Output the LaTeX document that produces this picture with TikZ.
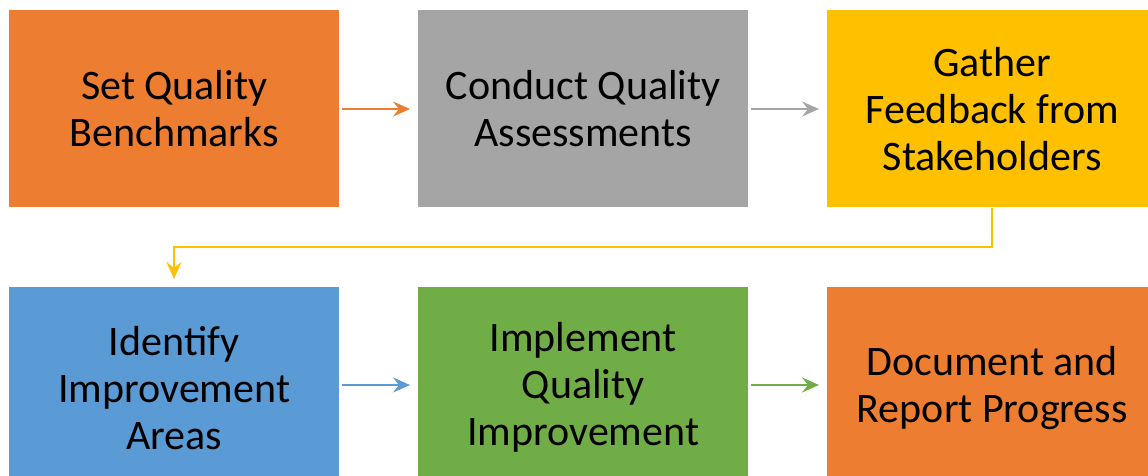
\documentclass[tikz,border=0pt]{standalone}
\usepackage{fontspec}
\setmainfont{Carlito}
\usetikzlibrary{arrows.meta}
\definecolor{corange}{HTML}{ED7D31}
\definecolor{cgray}{HTML}{A5A5A5}
\definecolor{cgold}{HTML}{FFC000}
\definecolor{cblue}{HTML}{5B9BD5}
\definecolor{cgreen}{HTML}{70AD47}
\begin{document}
\begin{tikzpicture}[x=1pt,y=-1pt,
  box/.style={fill=#1, draw=none, inner sep=0pt, minimum width=330pt, anchor=north west,
    font=\fontsize{42}{47}\selectfont, align=center, text=black},
  conn/.style={draw=#1, line width=2pt, -{Stealth[length=17pt,width=15pt,inset=6pt]}}]
\useasboundingbox (0,0) rectangle (1148,476);
\node[box=corange, minimum height=197pt] (b1) at (9,10) {Set Quality\\Benchmarks};
\node[box=cgray, minimum height=197pt] (b2) at (418,10) {Conduct Quality\\Assessments};
\node[box=cgold, minimum height=197pt] (b3) at (827,10) {Gather\\Feedback from\\Stakeholders};
\node[box=cblue, minimum height=201pt] (b4) at (9,287) {Identify\\Improvement\\Areas};
\node[box=cgreen, minimum height=201pt] (b5) at (418,287) {Implement\\Quality\\Improvement};
\node[box=corange, minimum height=201pt] (b6) at (827,287) {Document and\\Report Progress};
\coordinate (t1) at (410,109);
\coordinate (s1) at (342,109);
\draw[conn=corange] (s1) -- (t1);
\coordinate (s2) at (751,109);
\coordinate (t2) at (819,109);
\draw[conn=cgray] (s2) -- (t2);
\coordinate (s3) at (992,208);
\coordinate (m3) at (992,247);
\coordinate (n3) at (174,247);
\coordinate (t3) at (174,279);
\draw[conn=cgold] (s3) -- (m3) -- (n3) -- (t3);
\coordinate (s4) at (342,385);
\coordinate (t4) at (410,385);
\draw[conn=cblue] (s4) -- (t4);
\coordinate (s5) at (751,385);
\coordinate (t5) at (819,385);
\draw[conn=cgreen] (s5) -- (t5);
\end{tikzpicture}
\end{document}
